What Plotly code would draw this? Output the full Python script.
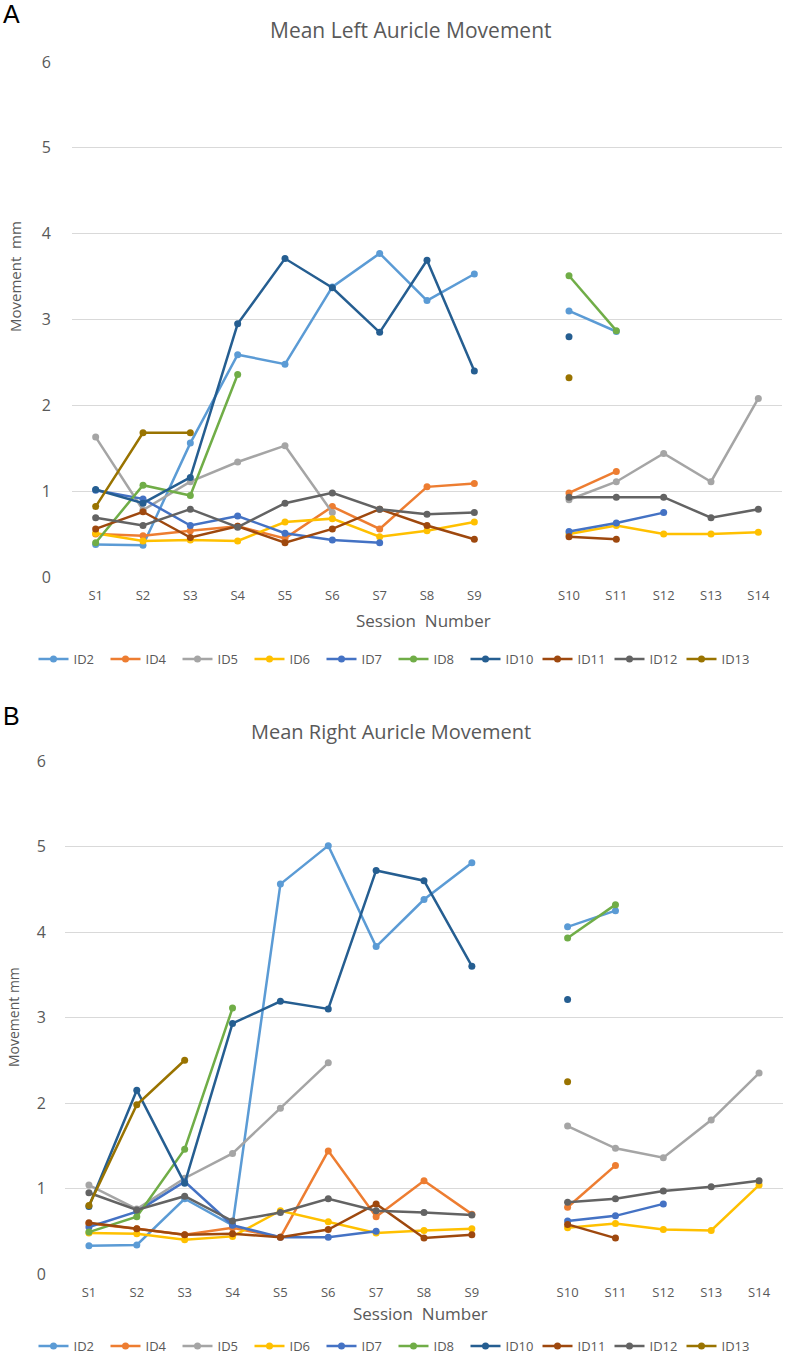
import plotly.graph_objects as go

sessions = ["S1", "S2", "S3", "S4", "S5", "S6", "S7", "S8", "S9", "S10", "S11", "S12", "S13", "S14"]
ids = ["ID2", "ID4", "ID5", "ID6", "ID7", "ID8", "ID10", "ID11", "ID12", "ID13"]
colors = ["#5B9BD5", "#ED7D31", "#A5A5A5", "#FFC000", "#4472C4", "#70AD47",
          "#255E91", "#9E480E", "#636363", "#997300"]

N = None
# Panel A: Mean Left Auricle Movement (mm), sessions S1..S14
left_ID2 = [0.38, 0.37, 1.56, 2.59, 2.48, 3.38, 3.77, 3.22, 3.53, 3.10, 2.86, N, N, N]
left_ID4 = [0.50, 0.48, 0.54, 0.59, 0.45, 0.82, 0.56, 1.05, 1.09, 0.98, 1.23, N, N, N]
left_ID5 = [1.63, 0.78, 1.11, 1.34, 1.53, 0.75, N, N, N, 0.90, 1.11, 1.44, 1.11, 2.08]
left_ID6 = [0.51, 0.42, 0.43, 0.42, 0.64, 0.68, 0.47, 0.54, 0.64, 0.50, 0.60, 0.50, 0.50, 0.52]
left_ID7 = [1.01, 0.91, 0.60, 0.71, 0.51, 0.43, 0.40, N, N, 0.53, 0.63, 0.75, N, N]
left_ID8 = [0.40, 1.07, 0.95, 2.36, N, N, N, N, N, 3.51, 2.87, N, N, N]
left_ID10 = [1.02, 0.86, 1.16, 2.95, 3.71, 3.37, 2.85, 3.69, 2.40, 2.80, N, N, N, N]
left_ID11 = [0.56, 0.76, 0.46, 0.59, 0.40, 0.56, 0.79, 0.60, 0.44, 0.47, 0.44, N, N, N]
left_ID12 = [0.69, 0.60, 0.79, 0.58, 0.86, 0.98, 0.79, 0.73, 0.75, 0.93, 0.93, 0.93, 0.69, 0.79]
left_ID13 = [0.82, 1.68, 1.68, N, N, N, N, N, N, 2.32, N, N, N, N]

# Panel B: Mean Right Auricle Movement (mm)
right_ID2 = [0.33, 0.34, 0.88, 0.57, 4.56, 5.01, 3.83, 4.38, 4.81, 4.06, 4.25, N, N, N]
right_ID4 = [0.59, 0.53, 0.46, 0.54, 0.43, 1.44, 0.67, 1.09, 0.70, 0.78, 1.27, N, N, N]
right_ID5 = [1.04, 0.76, 1.12, 1.41, 1.94, 2.47, N, N, N, 1.73, 1.47, 1.36, 1.80, 2.35]
right_ID6 = [0.48, 0.47, 0.40, 0.44, 0.74, 0.61, 0.48, 0.51, 0.53, 0.54, 0.59, 0.52, 0.51, 1.04]
right_ID7 = [0.55, 0.73, 1.08, 0.57, 0.43, 0.43, 0.50, N, N, 0.62, 0.68, 0.82, N, N]
right_ID8 = [0.49, 0.67, 1.46, 3.11, N, N, N, N, N, 3.93, 4.32, N, N, N]
right_ID10 = [0.79, 2.15, 1.06, 2.93, 3.19, 3.10, 4.72, 4.60, 3.60, 3.21, N, N, N, N]
right_ID11 = [0.60, 0.53, 0.46, 0.47, 0.43, 0.52, 0.82, 0.42, 0.46, 0.58, 0.42, N, N, N]
right_ID12 = [0.95, 0.75, 0.91, 0.62, 0.72, 0.88, 0.74, 0.72, 0.69, 0.84, 0.88, 0.97, 1.02, 1.09]
right_ID13 = [0.80, 1.98, 2.50, N, N, N, N, N, N, 2.25, N, N, N, N]

left_series = [left_ID2, left_ID4, left_ID5, left_ID6, left_ID7, left_ID8,
               left_ID10, left_ID11, left_ID12, left_ID13]
right_series = [right_ID2, right_ID4, right_ID5, right_ID6, right_ID7, right_ID8,
                right_ID10, right_ID11, right_ID12, right_ID13]

# category slots: a blank slot between S9 and S10 (breaks the lines there)
GAP_AFTER = 9
xslots = list(range(1, len(sessions) + 2))
tickpos = [s for s in xslots if s != GAP_AFTER + 1]


def with_gap(ys):
    return ys[:GAP_AFTER] + [None] + ys[GAP_AFTER:]


W, H = 787, 1356
FONT = "Open Sans"
GRAY = "#595959"

fig = go.Figure()
for name, col, ys in zip(ids, colors, left_series):
    fig.add_trace(go.Scatter(x=xslots, y=with_gap(ys), name=name, mode="lines+markers",
                             line=dict(color=col, width=2.5),
                             marker=dict(color=col, size=7),
                             connectgaps=False, xaxis="x", yaxis="y",
                             legend="legend"))
for name, col, ys in zip(ids, colors, right_series):
    fig.add_trace(go.Scatter(x=xslots, y=with_gap(ys), name=name, mode="lines+markers",
                             line=dict(color=col, width=2.5),
                             marker=dict(color=col, size=7),
                             connectgaps=False, xaxis="x2", yaxis="y2",
                             legend="legend2"))


def px_x(p):
    return p / W


def px_y(p):
    return 1 - p / H


xcommon = dict(range=[0.5, 15.5], tickvals=tickpos, ticktext=sessions,
               showgrid=False, zeroline=False, showline=False, ticks="",
               ticklabelstandoff=9, automargin=False,
               tickfont=dict(family=FONT, size=13, color=GRAY), fixedrange=True)
ycommon = dict(range=[0, 6], tickvals=[0, 1, 2, 3, 4, 5, 6], showgrid=True,
               gridcolor="#D9D9D9", gridwidth=1.3, zeroline=False, showline=False,
               ticks="", automargin=False,
               tickfont=dict(family=FONT, size=16, color=GRAY),
               fixedrange=True)

legend_common = dict(orientation="h", x=0.5, xanchor="center", yanchor="middle",
                     entrywidth=27, itemwidth=30,
                     font=dict(family=FONT, size=13, color=GRAY),
                     bgcolor="rgba(0,0,0,0)")

fig.update_layout(
    width=W, height=H,
    margin=dict(l=0, r=0, t=0, b=0, autoexpand=False),
    paper_bgcolor="white", plot_bgcolor="white",
    showlegend=True,
    xaxis=dict(domain=[px_x(72), px_x(782)], anchor="y", **xcommon),
    yaxis=dict(domain=[px_y(577), px_y(62)], anchor="x", ticklabelstandoff=20, **ycommon),
    xaxis2=dict(domain=[px_x(65), px_x(783)], anchor="y2", **xcommon),
    yaxis2=dict(domain=[px_y(1274), px_y(761)], anchor="x2", ticklabelstandoff=18, **ycommon),
    legend=dict(y=px_y(659), **legend_common),
    legend2=dict(y=px_y(1346), **legend_common),
)

ann = [
    dict(text="A", x=px_x(1), y=px_y(14), xanchor="left", yanchor="middle",
         font=dict(family="Liberation Sans", size=25, color="black")),
    dict(text="B", x=px_x(1), y=px_y(716), xanchor="left", yanchor="middle",
         font=dict(family="Liberation Sans", size=25, color="black")),
    dict(text="Mean Left Auricle Movement", x=px_x(411), y=px_y(30),
         xanchor="center", yanchor="middle",
         font=dict(family=FONT, size=21, color=GRAY)),
    dict(text="Mean Right Auricle Movement", x=px_x(391), y=px_y(732),
         xanchor="center", yanchor="middle",
         font=dict(family=FONT, size=20, color=GRAY)),
    dict(text="Session  Number", x=px_x(423), y=px_y(620),
         xanchor="center", yanchor="middle",
         font=dict(family=FONT, size=17, color=GRAY)),
    dict(text="Session  Number", x=px_x(421), y=px_y(1313),
         xanchor="center", yanchor="middle",
         font=dict(family=FONT, size=17, color=GRAY)),
    dict(text="Movement  mm", x=px_x(15), y=px_y(277), textangle=-90,
         xanchor="center", yanchor="middle",
         font=dict(family=FONT, size=15, color=GRAY)),
    dict(text="Movement mm", x=px_x(13), y=px_y(1017), textangle=-90,
         xanchor="center", yanchor="middle",
         font=dict(family=FONT, size=14, color=GRAY)),
]
for a in ann:
    a.update(xref="paper", yref="paper", showarrow=False)
fig.update_layout(annotations=ann)

fig.write_html("out.html",
               config={"displayModeBar": False},
               post_script="document.body.style.margin='0';document.body.style.overflow='hidden';")
